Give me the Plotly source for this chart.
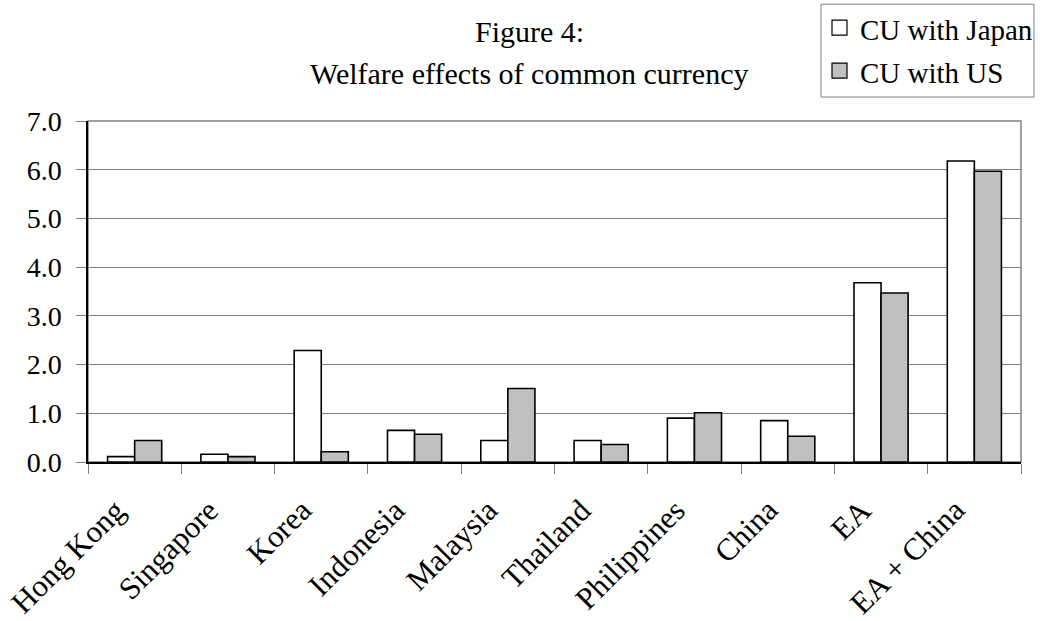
import plotly.graph_objects as go

# Welfare effects of a common currency, by economy
categories = ["Hong Kong", "Singapore", "Korea", "Indonesia", "Malaysia",
              "Thailand", "Philippines", "China", "EA", "EA + China"]
cu_japan = [0.11, 0.16, 2.29, 0.65, 0.44, 0.44, 0.90, 0.85, 3.68, 6.18]
cu_us = [0.44, 0.11, 0.21, 0.57, 1.51, 0.36, 1.01, 0.53, 3.47, 5.97]
series_names = ["CU with Japan", "CU with US"]
y_ticks = [0, 1, 2, 3, 4, 5, 6, 7]

FONT = "Liberation Serif"
FILLS = ["white", "#c0c0c0"]
W, H = 1042, 621
L, R, T, B = 88, 21, 121, 158.5
plot_w = W - L - R
plot_h = H - T - B


def py(pixel_y):
    """Pixel row -> paper y."""
    return (H - B - pixel_y) / plot_h


def px(pixel_x):
    """Pixel column -> paper x."""
    return (pixel_x - L) / plot_w


fig = go.Figure()
for name, vals, fill in zip(series_names, [cu_japan, cu_us], FILLS):
    fig.add_trace(go.Bar(
        name=name, x=categories, y=vals, showlegend=False,
        marker=dict(color=fill, line=dict(color="black", width=1.6)),
    ))

fig.update_layout(
    width=W, height=H,
    margin=dict(l=L, r=R, t=T, b=B, pad=0, autoexpand=False),
    paper_bgcolor="white", plot_bgcolor="white",
    barmode="group", bargap=0.42, bargroupgap=0,
    font=dict(family=FONT, color="black", size=28),
)

fig.update_xaxes(
    type="category", categoryorder="array", categoryarray=categories,
    range=[-0.5, len(categories) - 0.5], autorange=False,
    tickson="boundaries", automargin=False,
    ticks="outside", ticklen=10, tickcolor="#808080", tickwidth=1,
    showline=True, linecolor="black", linewidth=1.5,
    showgrid=False, showticklabels=False,
)
fig.update_yaxes(
    range=[0, 7], tickvals=y_ticks, tickformat=".1f", automargin=False,
    ticks="outside", ticklen=10, tickcolor="#808080", tickwidth=1,
    ticklabelstandoff=9,
    showline=True, linecolor="black", linewidth=1.5,
    showgrid=True, gridcolor="#808080", gridwidth=1,
    zeroline=False, tickfont=dict(family=FONT, size=28, color="black"),
)

# Category labels, slanted, with their upper end just left of each category centre
for i, cat in enumerate(categories):
    fig.add_annotation(
        text=cat, x=i, xref="x", y=py(490), yref="paper",
        xanchor="right", yanchor="top", textangle=-45, xshift=0,
        showarrow=False, font=dict(family=FONT, size=31, color="black"),
    )

# Plot-area frame (top and right edges)
fig.add_shape(type="rect", xref="paper", yref="paper", x0=0, x1=1, y0=0, y1=1,
              line=dict(color="#808080", width=1.5), layer="below")

# Two-line title
for text, y_pix in [("Figure 4:", 31), ("Welfare effects of common currency", 73)]:
    fig.add_annotation(text=text, xref="paper", yref="paper",
                       x=px(529), y=py(y_pix), xanchor="center", yanchor="middle",
                       showarrow=False, font=dict(family=FONT, size=30, color="black"))

# Legend box with swatches
fig.add_shape(type="rect", xref="paper", yref="paper",
              x0=px(821), x1=px(1034), y0=py(97), y1=py(4),
              line=dict(color="#808080", width=1), fillcolor="white")
for i, (name, fill) in enumerate(zip(series_names, FILLS)):
    cy = 27.5 + 43 * i
    fig.add_shape(type="rect", xref="paper", yref="paper",
                  x0=px(832), x1=px(847), y0=py(cy + 7.5), y1=py(cy - 7.5),
                  line=dict(color="black", width=1.2), fillcolor=fill)
    fig.add_annotation(text=name, xref="paper", yref="paper",
                       x=px(858), y=py(cy + 2), xanchor="left", yanchor="middle",
                       showarrow=False, font=dict(family=FONT, size=29, color="black"))

fig.write_html("out.html")
